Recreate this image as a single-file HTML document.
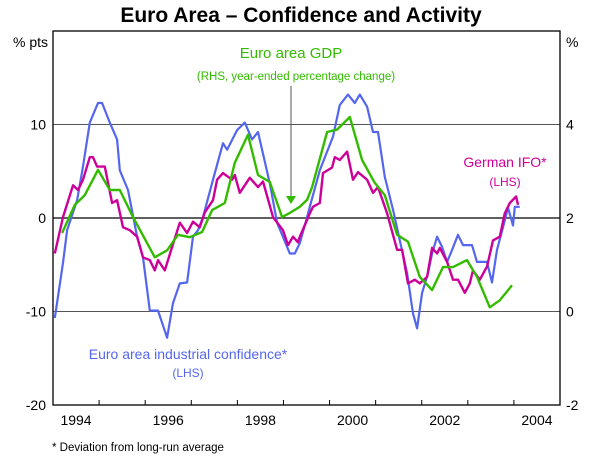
<!DOCTYPE html>
<html><head><meta charset="utf-8">
<style>
html,body{margin:0;padding:0;background:#fff;}
svg{display:block;font-family:"Liberation Sans",Arial,sans-serif;}
</style></head>
<body>
<svg id="chart" width="602" height="458" viewBox="0 0 602 458">
  <text x="301" y="22" text-anchor="middle" font-size="21" font-weight="bold">Euro Area – Confidence and Activity</text>
  <text x="48" y="47" text-anchor="end" font-size="14">% pts</text>
  <text x="566" y="47" font-size="14">%</text>
  <g id="grid"></g>
  <g id="series"></g>
  <rect x="53" y="31" width="507" height="374" fill="none" stroke="#000" stroke-width="1.3"/>
  <g id="axes"></g>
  <text x="291" y="58" text-anchor="middle" font-size="15" fill="#33bb00">Euro area GDP</text>
  <text x="296" y="80" text-anchor="middle" font-size="11.5" fill="#33bb00">(RHS, year-ended percentage change)</text>
  <line x1="291" y1="86" x2="291" y2="196" stroke="#555" stroke-width="1"/>
  <polygon points="286,196 296,196 291,204" fill="#33bb00"/>
  <text x="505" y="167" text-anchor="middle" font-size="14" fill="#cc0099">German IFO*</text>
  <text x="505" y="186" text-anchor="middle" font-size="12" fill="#cc0099">(LHS)</text>
  <text x="188" y="359" text-anchor="middle" font-size="14" fill="#5566ee">Euro area industrial confidence*</text>
  <text x="188" y="377" text-anchor="middle" font-size="12" fill="#5566ee">(LHS)</text>
  <text x="52" y="451" font-size="11.5">* Deviation from long-run average</text>
</svg>
<script>
const confT=[1994.04,1994.22,1994.31,1994.53,1994.66,1994.81,1994.99,1995.08,1995.25,1995.41,1995.47,1995.65,1995.85,1995.98,1996.13,1996.31,1996.51,1996.64,1996.79,1996.95,1997.08,1997.19,1997.30,1997.52,1997.74,1997.83,1998.05,1998.22,1998.38,1998.51,1998.77,1998.93,1999.21,1999.32,1999.43,1999.59,1999.65,1999.87,2000.03,2000.16,2000.31,2000.49,2000.64,2000.75,2000.91,2001.04,2001.15,2001.30,2001.48,2001.63,2001.79,2001.92,2002.01,2002.12,2002.25,2002.34,2002.45,2002.56,2002.67,2002.78,2002.91,2003.02,2003.22,2003.33,2003.55,2003.66,2003.77,2003.90,2004.01,2004.12,2004.16,2004.27];
const confV=[-10.7,-4.8,-1.3,1.9,5.5,10.2,12.3,12.3,10.2,8.4,5.1,3.0,-2,-4.2,-9.9,-9.9,-12.8,-9.1,-7,-6.9,-2,-1.3,0.1,4.1,8,7.3,9.4,10.2,8.4,9.2,3.7,-0.5,-3.8,-3.8,-2.7,0.1,1.2,5.1,7.1,8.7,12.1,13.2,12.3,13.2,11.9,9.2,9.2,4.4,0.9,-2.4,-5.9,-10.2,-11.8,-8,-5.9,-3.8,-2,-3.1,-4.7,-3.4,-1.8,-2.9,-2.9,-4.7,-4.7,-6.9,-3.4,-1,1.1,-0.8,1.2,1.2];
const ifoT=[1994.04,1994.22,1994.44,1994.55,1994.66,1994.81,1994.88,1994.97,1995.14,1995.30,1995.41,1995.54,1995.69,1995.85,1995.98,1996.13,1996.24,1996.31,1996.46,1996.62,1996.79,1996.95,1997.08,1997.23,1997.34,1997.52,1997.61,1997.74,1997.94,1998.00,1998.11,1998.33,1998.51,1998.62,1998.84,1999.06,1999.17,1999.28,1999.39,1999.43,1999.59,1999.65,1999.72,1999.87,1999.94,2000.14,2000.20,2000.31,2000.47,2000.60,2000.71,2000.91,2001.04,2001.15,2001.35,2001.57,2001.68,2001.81,2001.96,2002.07,2002.23,2002.34,2002.45,2002.51,2002.67,2002.80,2002.91,2003.06,2003.17,2003.24,2003.39,2003.55,2003.68,2003.83,2003.94,2004.05,2004.19,2004.23];
const ifoV=[-3.8,0.1,3.5,3,4.1,6.5,6.5,5.5,5.5,1.6,1.9,-1,-1.3,-2,-4.2,-4.5,-5.6,-4.5,-5.6,-3.1,-0.5,-1.6,-0.4,-1,0.6,1.9,4.1,4.8,4.1,4.6,2.7,4.3,3.3,3.9,0.1,-1.3,-2.9,-2,-2.6,-2,-0.2,0.5,1.2,1.6,4.8,5.4,6.5,6.2,7.1,4.1,4.9,4.1,2.7,3.3,0.5,-3.4,-3.4,-7,-6.6,-7,-6.3,-3.2,-3.8,-3.2,-4.7,-6.6,-6.6,-8,-7,-5.6,-6.6,-5.2,-2.4,-2,0.5,1.6,2.3,1.4];
const gdpT=[1994.20,1994.48,1994.70,1994.99,1995.25,1995.47,1995.76,1996.24,1996.51,1996.75,1997.01,1997.28,1997.50,1997.78,1998.00,1998.29,1998.51,1998.77,1999.04,1999.21,1999.43,1999.59,1999.70,2000.03,2000.25,2000.53,2000.80,2001.08,2001.30,2001.57,2001.81,2002.07,2002.34,2002.58,2002.80,2003.11,2003.33,2003.61,2003.83,2004.10];
const gdpV=[1.68,2.28,2.49,3.03,2.6,2.6,2.02,1.16,1.31,1.64,1.59,1.70,2.17,2.32,3.18,3.78,2.92,2.77,2.02,2.11,2.24,2.39,2.66,3.84,3.89,4.16,3.24,2.75,2.49,1.64,1.49,0.74,0.46,0.95,0.95,1.10,0.74,0.09,0.24,0.56];
const leftTicks=[10,0,-10,-20];
const rightTicks=[4,2,0,-2];
const yearLabels=["1994","1996","1998","2000","2002","2004"];

const NS="http://www.w3.org/2000/svg";
const X0=53,X1=560,Y0=31,Y1=405;
const T0=1994,T1=1994+(X1-X0)/45.45;
function sx(t){return X0+(t-T0)/(T1-T0)*(X1-X0);}
function syL(v){return Y1-(v+20)/40*(Y1-Y0);}
function syR(v){return Y1-(v+2)/8*(Y1-Y0);}
function mk(tag,attrs,parent){const e=document.createElementNS(NS,tag);for(const k in attrs)e.setAttribute(k,attrs[k]);parent.appendChild(e);return e;}
const grid=document.getElementById('grid'),axes=document.getElementById('axes'),ser=document.getElementById('series');

leftTicks.forEach(v=>{
  const y=syL(v);
  if(v>-20&&v<20){
    const g=mk('line',{x1:X0,x2:X1,y1:y,y2:y,stroke:v===0?'#000':'#555','stroke-width':v===0?1.3:1},grid);
    
    
  }
  const t=mk('text',{x:46,y:y+5,'text-anchor':'end','font-size':14},axes);
  t.textContent=v;
  
  
});
rightTicks.forEach(v=>{
  const y=syR(v);
  const t=mk('text',{x:566,y:y+5,'font-size':14},axes);
  t.textContent=v;
  
  
});
const step=(X1-X0)/11;
for(let k=1;k<11;k++){
  const x=X0+k*step;
  const l=mk('line',{x1:x,x2:x,y1:Y1,y2:Y1-5,stroke:'#000','stroke-width':1},axes);
  
  
}
yearLabels.forEach((lab,i)=>{
  const x=X0+(2*i+0.5)*step;
  const t=mk('text',{x:x,y:425,'text-anchor':'middle','font-size':14},axes);
  t.textContent=lab;
  
  
});
function line(T,V,fy,color,w,name){
  const d=T.map((t,i)=>(i?'L':'M')+sx(t).toFixed(1)+','+fy(V[i]).toFixed(1)).join('');
  const p=mk('path',{d:d,fill:'none',stroke:color,'stroke-width':w,'stroke-linejoin':'round'},ser);
  
  
}
line(confT,confV,syL,'#5566ee',2.2,'confidence-line');
line(ifoT,ifoV,syL,'#cc0099',2.4,'ifo-line');
line(gdpT,gdpV,syR,'#33bb00',2.4,'gdp-line');
</script>
</body></html>
